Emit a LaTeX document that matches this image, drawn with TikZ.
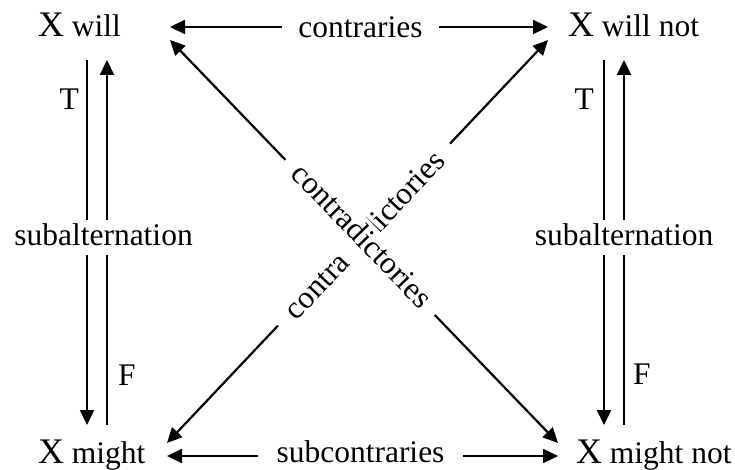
\documentclass[tikz,border=0pt]{standalone}
\usepackage{fontspec}
\setmainfont{Liberation Serif}
\usepackage{tikz}
\usetikzlibrary{arrows.meta}
\newcommand{\bigX}{{\fontsize{36}{40}\selectfont X}}

\begin{document}
\begin{tikzpicture}[
  x=1pt,y=-1pt,
  corner/.style={inner sep=0pt,anchor=base west,font=\fontsize{31.5}{36}\selectfont},
  rel/.style={fill=white,inner ysep=2pt,font=\fontsize{31.5}{36}\selectfont},
  tf/.style={inner sep=2pt,font=\fontsize{31.5}{36}\selectfont},
  line width=2.2pt,
  >={Triangle[length=15pt,width=14pt]}
]
\useasboundingbox (0,0) rectangle (735,470);
\node[corner] (will) at (37,37) {\bigX{} will};
\node[corner] (willnot) at (567,37) {\bigX{} will not};
\node[corner] (might) at (37,463) {\bigX{} might};
\node[corner] (mightnot) at (575,463) {\bigX{} might not};
% contraries and subcontraries
\draw[<->] ([shift={(133,-10)}]will.base west) -- node[rel,inner xsep=16pt,xshift=1.5pt] {contraries} ([shift={(-19,-10)}]willnot.base west);
\draw[<->] ([shift={(130,-7)}]might.base west) -- node[rel,inner xsep=19pt,xshift=-2pt,yshift=4pt] {subcontraries} ([shift={(-17,-7)}]mightnot.base west);
% contradictories
\draw[<->] ([shift={(130,-20)}]might.base west) -- node[rel,sloped,pos=0.517,inner xsep=16pt] {contra\hspace{31pt}dictories} ([shift={(-19,3)}]willnot.base west);
\draw[<->] ([shift={(133,3)}]will.base west) -- node[rel,sloped,pos=0.49,inner xsep=14pt,text depth=7pt,inner ysep=4pt] {contradictories} ([shift={(-17,-20)}]mightnot.base west);
% subalternation
\draw[->] ([shift={(50,23)}]will.base west) -- node[tf,left=5pt,pos=0.107] {T} ([shift={(50,-38)}]might.base west);
\draw[<-] ([shift={(70,23)}]will.base west) -- node[tf,right=8pt,pos=0.863] {F} ([shift={(70,-38)}]might.base west);
\draw[->] ([shift={(37,23)}]willnot.base west) -- node[tf,left=7pt,pos=0.106] {T} ([shift={(29,-38)}]mightnot.base west);
\draw[<-] ([shift={(57,23)}]willnot.base west) -- node[tf,right=6pt,pos=0.862] {F} ([shift={(49,-38)}]mightnot.base west);
\node[rel,anchor=base,text depth=7pt,inner ysep=3pt] (subl) at (103.5,245) {subalternation};
\node[rel,anchor=base,text depth=7pt,inner ysep=3pt] (subr) at (624,245) {subalternation};
\end{tikzpicture}
\end{document}
